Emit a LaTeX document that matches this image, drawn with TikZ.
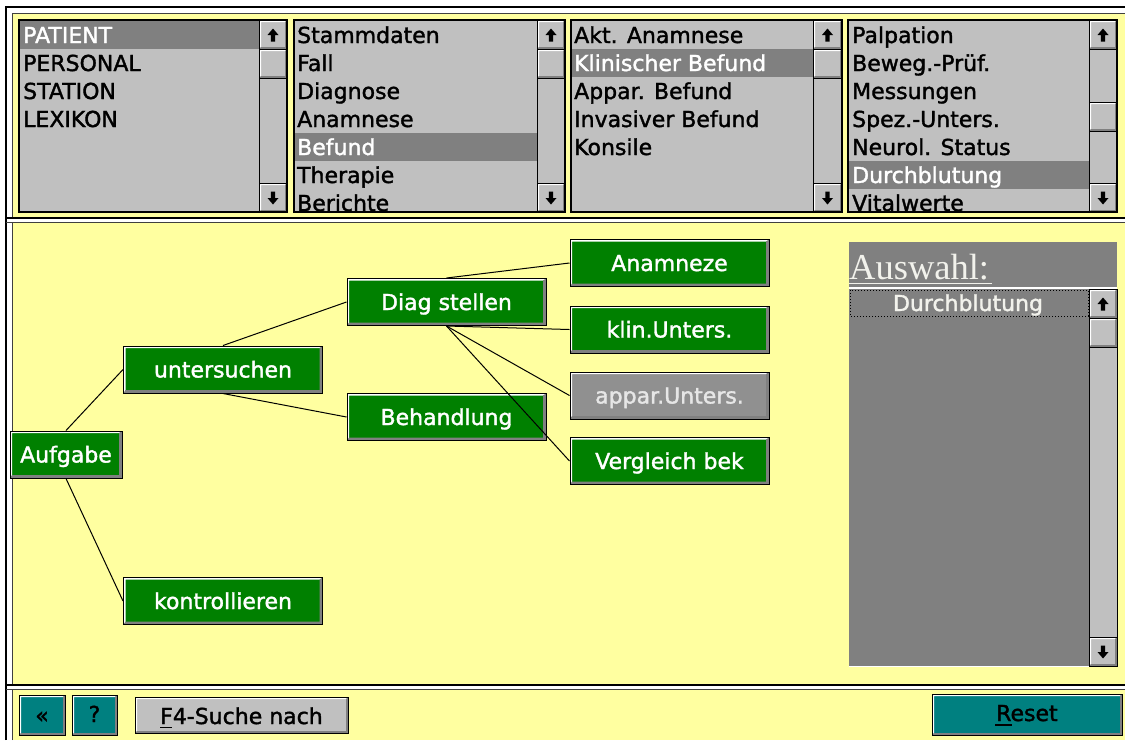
\documentclass[tikz,border=0pt]{standalone}
\usepackage{fontspec}
\newfontfamily\guifont[FakeBold=1.6]{DejaVu Sans}
\newfontfamily\titlefont{Liberation Serif}
\definecolor{winyellow}{HTML}{FFFFA0}
\definecolor{listgray}{HTML}{C0C0C0}
\definecolor{selgray}{HTML}{808080}
\definecolor{shadowgray}{HTML}{808080}
\definecolor{nodegreen}{HTML}{008000}
\definecolor{btnteal}{HTML}{008080}
\definecolor{paleink}{HTML}{F2F2EC}
\definecolor{offgray}{HTML}{909090}
\definecolor{offtext}{HTML}{E6E6E6}

% raised 3D box: left, top, right, bottom, fill colour
\newcommand{\raised}[5]{%
  \fill[#5] (#1,#2) rectangle (#3,#4);
  \fill[white] (#1,#4) -- (#1,#2) -- (#3,#2) -- (#3-2,#2+2) -- (#1+2,#2+2) -- (#1+2,#4-2) -- cycle;
  \fill[shadowgray] (#1,#4) -- (#3,#4) -- (#3,#2) -- (#3-2,#2+2) -- (#3-2,#4-2) -- (#1+2,#4-2) -- cycle;
  \draw[black, line width=1pt] (#1,#2) rectangle (#3,#4);
}
% scroll arrows, centred on (x,y)
\newcommand{\uparrowglyph}[2]{%
  \fill[black] (#1-5.5,#2) -- (#1,#2-6.5) -- (#1+5.5,#2) -- (#1+2.2,#2) -- (#1+2.2,#2+6.5) -- (#1-2.2,#2+6.5) -- (#1-2.2,#2) -- cycle;}
\newcommand{\downarrowglyph}[2]{%
  \fill[black] (#1-5.5,#2) -- (#1,#2+6.5) -- (#1+5.5,#2) -- (#1+2.2,#2) -- (#1+2.2,#2-6.5) -- (#1-2.2,#2-6.5) -- (#1-2.2,#2) -- cycle;}
% vertical scroll bar: left, right, top, bottom, thumb top
\newcommand{\scrollbar}[5]{%
  \pgfmathsetmacro\sbcx{(#1+#2)/2}%
  \pgfmathsetmacro\sbup{#3+15}%
  \pgfmathsetmacro\sbdn{#4-14}%
  \fill[listgray] (#1,#3) rectangle (#2,#4);
  \raised{#1}{#3}{#2}{#3+29}{listgray}
  \uparrowglyph{\sbcx}{\sbup}
  \raised{#1}{#5}{#2}{#5+29}{listgray}
  \raised{#1}{#4-29}{#2}{#4}{listgray}
  \downarrowglyph{\sbcx}{\sbdn}
  \draw[black, line width=1pt] (#1,#3) rectangle (#2,#4);
}

\begin{document}
\begin{tikzpicture}[x=1pt, y=-1pt,
  gui/.style={font=\guifont\fontsize{22}{26}\selectfont},
  item/.style={gui, anchor=base west, inner sep=0pt, text=black},
  selitem/.style={item, text=white},
  bevel/.style={path picture={
    \fill[white] (path picture bounding box.south west) -- (path picture bounding box.north west)
      -- (path picture bounding box.north east) -- ([shift={(-2,2)}]path picture bounding box.north east)
      -- ([shift={(2,2)}]path picture bounding box.north west) -- ([shift={(2,-2)}]path picture bounding box.south west) -- cycle;
    \fill[shadowgray] (path picture bounding box.south west) -- (path picture bounding box.south east)
      -- (path picture bounding box.north east) -- ([shift={(-3,2)}]path picture bounding box.north east)
      -- ([shift={(-3,-3)}]path picture bounding box.south east) -- ([shift={(2,-3)}]path picture bounding box.south west) -- cycle;
  }},
  tnode/.style={rectangle, draw=black, line width=1pt, fill=nodegreen, text=white, gui,
    minimum width=199pt, minimum height=47pt, inner sep=0pt, text height=16pt, text depth=0pt, bevel},
  offnode/.style={tnode, fill=offgray, text=offtext},
  conn/.style={draw=black, line width=1pt},
  btntext/.style={gui, anchor=base, inner sep=0pt, text=black}
]
\useasboundingbox (0,0) rectangle (1125,740);

% window frame and background
\fill[white] (0,0) rectangle (1125,740);
\fill[winyellow] (12.5,13.5) rectangle (1125,740);
\draw[black, line width=1.2pt] (6,740) -- (6,7) -- (1125,7);
\draw[black!75, line width=1pt] (12,740) -- (12,13) -- (1125,13);
% panel separators
\fill[white] (12,218) rectangle (1125,222);
\draw[black, line width=1.5pt] (6,218) -- (1125,218);
\draw[black!75, line width=1pt] (6,222.5) -- (1125,222.5);
\fill[white] (12,685) rectangle (1125,689);
\draw[black, line width=1.5pt] (6,685) -- (1125,685);
\draw[black!75, line width=1pt] (6,689.5) -- (1125,689.5);

% ---- list 1
\fill[listgray] (19,20) rectangle (287,212);
\begin{scope}
  \clip (19,20) rectangle (259,212);
  \fill[selgray] (19,20) rectangle (259,49);
  \node[selitem] (l1a) at (23,43) {PATIENT};
  \node[item] (l1b) at (23,71) {PERSONAL};
  \node[item] (l1c) at (23,99) {STATION};
  \node[item] (l1d) at (23,127) {LEXIKON};
\end{scope}
\scrollbar{259}{287}{20}{212}{49}
\draw[black, line width=1.2pt] (19,20) rectangle (287,212);

% ---- list 2
\fill[listgray] (294,20) rectangle (565,212);
\begin{scope}
  \clip (294,20) rectangle (537,212);
  \fill[selgray] (294,133) rectangle (537,161);
  \node[item] (l2a) at (297,43) {Stammdaten};
  \node[item] (l2b) at (297,71) {Fall};
  \node[item] (l2c) at (297,99) {Diagnose};
  \node[item] (l2d) at (297,127) {Anamnese};
  \node[selitem] (l2e) at (297,155) {Befund};
  \node[item] (l2f) at (297,183) {Therapie};
  \node[item] (l2g) at (297,211) {Berichte};
\end{scope}
\scrollbar{537}{565}{20}{212}{49}
\draw[black, line width=1.2pt] (294,20) rectangle (565,212);

% ---- list 3
\fill[listgray] (571,20) rectangle (842,212);
\begin{scope}
  \clip (571,20) rectangle (813,212);
  \fill[selgray] (571,49) rectangle (813,77);
  \node[item] (l3a) at (574,43) {Akt. Anamnese};
  \node[selitem] (l3b) at (574,71) {Klinischer Befund};
  \node[item] (l3c) at (574,99) {Appar. Befund};
  \node[item] (l3d) at (574,127) {Invasiver Befund};
  \node[item] (l3e) at (574,155) {Konsile};
\end{scope}
\scrollbar{813}{842}{20}{212}{49}
\draw[black, line width=1.2pt] (571,20) rectangle (842,212);

% ---- list 4
\fill[listgray] (848,20) rectangle (1117,212);
\begin{scope}
  \clip (848,20) rectangle (1089,212);
  \fill[selgray] (848,161) rectangle (1089,189);
  \node[item] (l4a) at (852,43) {Palpation};
  \node[item] (l4b) at (852,71) {Beweg.-Prüf.};
  \node[item] (l4c) at (852,99) {Messungen};
  \node[item] (l4d) at (852,127) {Spez.-Unters.};
  \node[item] (l4e) at (852,155) {Neurol. Status};
  \node[selitem] (l4f) at (852,183) {Durchblutung};
  \node[item] (l4g) at (852,211) {Vitalwerte};
\end{scope}
\scrollbar{1089}{1117}{20}{212}{102}
\draw[black, line width=1.2pt] (848,20) rectangle (1117,212);

% ---- task tree
\node[tnode, minimum width=112pt] (aufgabe) at (66,454.5) {Aufgabe};
\node[tnode] (untersuchen) at (223,369.5) {untersuchen};
\node[tnode] (kontrollieren) at (223,601) {kontrollieren};
\node[tnode] (diag) at (446.5,302) {Diag stellen};
\node[tnode] (behandlung) at (446.5,417) {Behandlung};
\node[tnode] (anamneze) at (669.5,263) {Anamneze};
\node[tnode] (klin) at (669.5,329.5) {klin.Unters.};
\node[offnode] (appar) at (669.5,395.5) {appar.Unters.};
\node[tnode] (vergleich) at (669.5,461) {Vergleich bek};

\draw[conn] (aufgabe.north) -- (untersuchen.west);
\draw[conn] (aufgabe.south) -- (kontrollieren.west);
\draw[conn] (untersuchen.north) -- (diag.west);
\draw[conn] (untersuchen.south) -- (behandlung.west);
\draw[conn] (diag.north) -- (anamneze.west);
\draw[conn] (diag.south) -- (klin.west);
\draw[conn] (diag.south) -- (appar.west);
\draw[conn] (diag.south) -- (vergleich.west);

% ---- selection panel
\fill[selgray] (849,242) rectangle (1117,666);
\node[anchor=base west, inner sep=0pt, text=paleink, font=\titlefont\fontsize{36.5}{40}\selectfont] (auswahl) at (849,279) {Auswahl:};
\draw[paleink, line width=1.2pt] (849,283.5) -- (992,283.5);
\draw[white, line width=1.5pt] (849,288) -- (1117,288);
\draw[white, line width=1pt] (849,666.5) -- (1089,666.5);
\scrollbar{1089}{1117}{289}{666}{318}
\draw[black, dotted, line width=1pt] (850,290) rectangle (1088,316);
\node[gui, anchor=base, inner sep=0pt, text=paleink] (sel) at (968,311) {Durchblutung};

% ---- bottom buttons
\raised{19}{695}{65}{735}{btnteal}
\node[btntext] (back) at (42,723) {«};
\raised{72}{695}{117}{735}{btnteal}
\node[btntext] (help) at (94.5,722) {?};
\raised{135}{697}{348}{733}{listgray}
\node[btntext, anchor=base west] (suche) at (160,724) {F4-Suche nach};
\draw[black, line width=1.2pt] (160,727.5) -- (172,727.5);
\raised{932}{694}{1122}{735}{btnteal}
\node[btntext, anchor=base west] (reset) at (996,721) {Reset};
\draw[black, line width=1.2pt] (995,725) -- (1012,725);
\end{tikzpicture}
\end{document}
